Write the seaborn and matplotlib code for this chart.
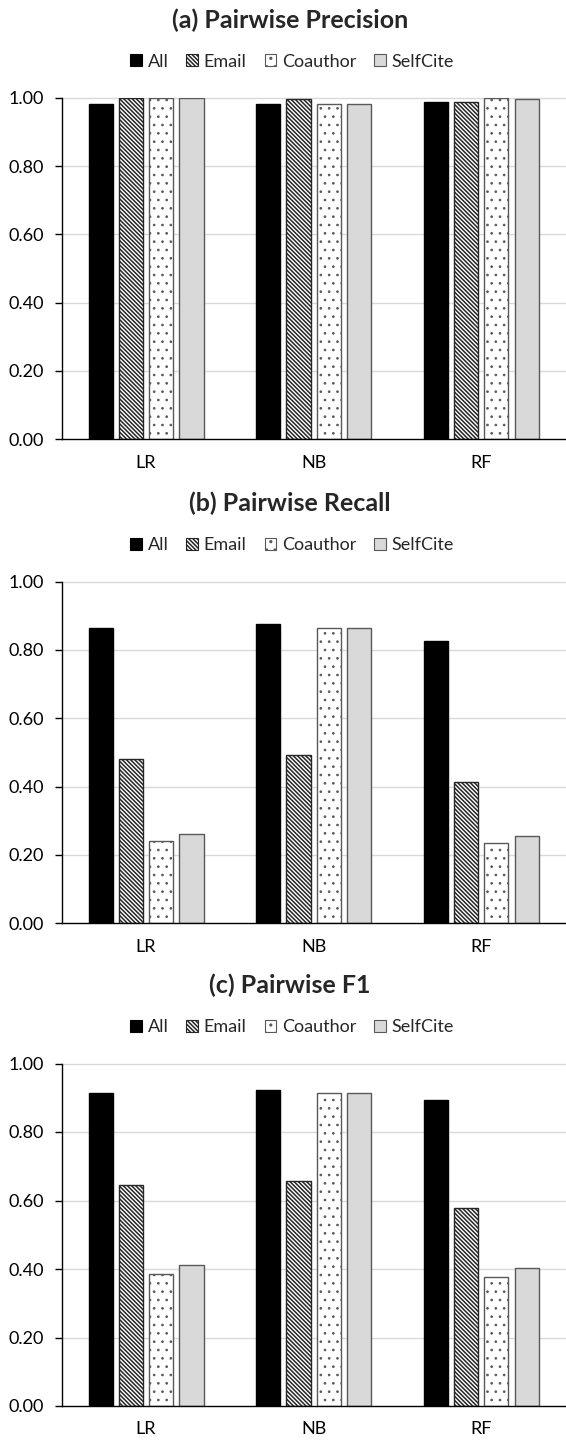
import matplotlib
matplotlib.use("Agg")
import matplotlib.pyplot as plt
from matplotlib.patches import Patch
import seaborn as sns
import pandas as pd

# ---------------- data ----------------
models = ["LR", "NB", "RF"]
features = ["All", "Email", "Coauthor", "SelfCite"]

precision_all = [0.983, 0.983, 0.986]
precision_email = [0.998, 0.995, 0.986]
precision_coauthor = [0.998, 0.983, 0.998]
precision_selfcite = [0.998, 0.983, 0.995]

recall_all = [0.863, 0.877, 0.825]
recall_email = [0.480, 0.493, 0.412]
recall_coauthor = [0.242, 0.863, 0.235]
recall_selfcite = [0.262, 0.863, 0.256]

f1_all = [0.915, 0.923, 0.893]
f1_email = [0.645, 0.657, 0.578]
f1_coauthor = [0.385, 0.915, 0.376]
f1_selfcite = [0.412, 0.915, 0.404]

titles = ["(a) Pairwise Precision", "(b) Pairwise Recall", "(c) Pairwise F1"]
yticks = [0.0, 0.2, 0.4, 0.6, 0.8, 1.0]

panels = [
    [precision_all, precision_email, precision_coauthor, precision_selfcite],
    [recall_all, recall_email, recall_coauthor, recall_selfcite],
    [f1_all, f1_email, f1_coauthor, f1_selfcite],
]

# ---------------- style ----------------
sns.set_theme(style="white")
plt.rcParams["font.family"] = ["Lato", "DejaVu Sans"]
plt.rcParams["hatch.linewidth"] = 1.1

face = {"All": "#000000", "Email": "#ffffff", "Coauthor": "#ffffff", "SelfCite": "#d9d9d9"}
edge = {"All": "#000000", "Email": "#262626", "Coauthor": "#595959", "SelfCite": "#595959"}
hatch = {"All": "", "Email": "\\" * 8, "Coauthor": "..", "SelfCite": ""}
hatch_lw = {"All": 1.0, "Email": 1.1, "Coauthor": 0.7, "SelfCite": 1.0}

W, H = 566, 1440
fig = plt.figure(figsize=(W / 100, H / 100), dpi=100)

# axes pixel boxes (top, bottom)
ax_px = [(97.7, 439.3), (581.5, 923.3), (1063.5, 1406.0)]
left_px, right_px = 62.3, 565.0


def set_hlw(p, lw):
    if hasattr(p, "set_hatch_linewidth"):
        try:
            p.set_hatch_linewidth(lw)
        except Exception:
            pass


for i, (vals, title) in enumerate(zip(panels, titles)):
    top, bot = ax_px[i]
    ax = fig.add_axes([left_px / W, 1 - bot / H, (right_px - left_px) / W, (bot - top) / H])

    rows = []
    for f, series in zip(features, vals):
        for m, v in zip(models, series):
            rows.append({"model": m, "feature": f, "value": v})
    df = pd.DataFrame(rows)

    sns.barplot(data=df, x="model", y="value", hue="feature", order=models,
                hue_order=features, palette=[face[f] for f in features],
                width=0.723, gap=0.2, legend=False, ax=ax, saturation=1,
                err_kws={"linewidth": 0})

    for cont, f in zip(ax.containers, features):
        for p in cont.patches:
            p.set_facecolor(face[f])
            p.set_edgecolor(edge[f])
            p.set_linewidth(1.0)
            p.set_hatch(hatch[f])
            set_hlw(p, hatch_lw[f])
            p.set_zorder(3)

    ax.set_ylim(0, 1.0)
    ax.set_xlim(-0.5, 2.5)
    ax.set_yticks(yticks)
    ax.set_yticklabels([f"{t:.2f}" for t in yticks])
    ax.set_xticks([0, 1, 2])
    ax.set_xticklabels(models)
    ax.set_xticks([-0.5, 0.5, 1.5, 2.5], minor=True)
    ax.tick_params(axis="x", which="major", length=0, pad=11, labelsize=13, colors="#000000")
    ax.tick_params(axis="x", which="minor", length=5, width=1.0, direction="out", color="#000000")
    ax.tick_params(axis="y", length=5, width=1.0, direction="out", left=True, pad=8,
                   labelsize=13, colors="#000000")
    ax.set_xlabel("")
    ax.set_ylabel("")

    for y in yticks[1:]:
        ax.axhline(y, color="#d9d9d9", linewidth=1.0, zorder=1, clip_on=False)
    for s in ["top", "right"]:
        ax.spines[s].set_visible(False)
    for s in ["left", "bottom"]:
        ax.spines[s].set_color("#000000")
        ax.spines[s].set_linewidth(1.0)
        ax.spines[s].set_zorder(4)

    # title and legend
    fig.text(290 / W, 1 - (top - 77.7) / H, title, ha="center", va="center",
             fontsize=18, fontweight="bold")
    handles = []
    for f in features:
        hp = Patch(facecolor=face[f], edgecolor=edge[f], hatch=hatch[f], linewidth=0.8)
        set_hlw(hp, hatch_lw[f])
        handles.append(hp)
    fig.legend(handles, features, loc="center", bbox_to_anchor=(292 / W, 1 - (top - 36) / H),
               ncol=4, frameon=False, fontsize=13, handlelength=0.65, handleheight=0.65,
               handletextpad=0.3, columnspacing=1.0, borderpad=0)

fig.savefig("out.png", dpi=100)
